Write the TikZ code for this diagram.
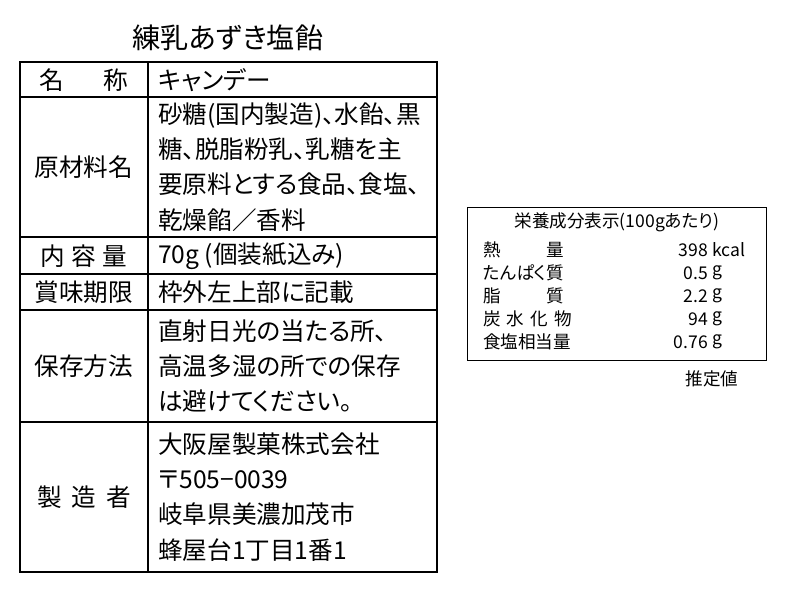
\documentclass[tikz,border=0pt]{standalone}
\usepackage{fontspec}
\setmainfont[RawFeature=+palt]{Noto Sans CJK JP}
\begin{document}
\begin{tikzpicture}[x=0.03cm,y=-0.03cm,
  big/.style={font=\fontsize{21}{30}\selectfont,inner sep=0pt},
  small/.style={font=\fontsize{15}{19}\selectfont,inner sep=0pt}]
\useasboundingbox (0,0) rectangle (800,600);

% title
\node[big,font=\fontsize{24}{30}\selectfont] (title) at (228,38) {練乳あずき塩飴};

% left table
\draw[line width=1.6pt] (20,62) rectangle (437,572);
\draw[line width=1.2pt] (148,62) -- (148,572);
\foreach \yy in {97,237,274,310,422}
  \draw[line width=1.2pt] (20,\yy) -- (437,\yy);

\node[big] (k1) at (84,80) {名\hspace{1.6em}称};
\node[big] (k2) at (84,167) {原材料名};
\node[big] (k3) at (84,256) {内\hspace{0.25em}容\hspace{0.25em}量};
\node[big] (k4) at (84,292) {賞味期限};
\node[big] (k5) at (84,366) {保存方法};
\node[big] (k6) at (84,497) {製\hspace{0.4em}造\hspace{0.4em}者};

\node[big,anchor=west] (v1) at (158,80) {キャンデー};
\node[big,anchor=west,align=left] (v2) at (158,167)
  {砂糖(国内製造)、水飴、黒\\糖、脱脂粉乳、乳糖を主\\要原料とする食品、食塩、\\乾燥餡／香料};
\node[big,anchor=west] (v3) at (158,256) {70g (個装紙込み)};
\node[big,anchor=west] (v4) at (158,292) {枠外左上部に記載};
\node[big,anchor=west,align=left] (v5) at (158,366)
  {直射日光の当たる所、\\高温多湿の所での保存\\は避けてください。};
\node[big,anchor=west,align=left] (v6) at (158,497)
  {大阪屋製菓株式会社\\〒505−0039\\岐阜県美濃加茂市\\蜂屋台1丁目1番1};

% nutrition table
\draw[line width=0.8pt] (467,207) rectangle (766,360);
\node[small] (ntitle) at (617,222) {栄養成分表示(100gあたり)};
\foreach \lab/\num/\unit [count=\i] in
  {熱\hspace{2.6em}量/398/kcal, たんぱく質/0.5/g, 脂\hspace{2.6em}質/2.2/g,
   炭\hspace{0.35em}水\hspace{0.35em}化\hspace{0.35em}物/94/g, 食塩相当量/0.76/g}{
  \node[small,anchor=west] (n\i) at (483,227+23*\i) {\lab};
  \node[small,anchor=east] (m\i) at (708,227+23*\i) {\num};
  \node[small,anchor=west] (u\i) at (712,227+23*\i) {\unit};
}
\node[small] (est) at (712,379) {推定値};
\end{tikzpicture}
\end{document}
